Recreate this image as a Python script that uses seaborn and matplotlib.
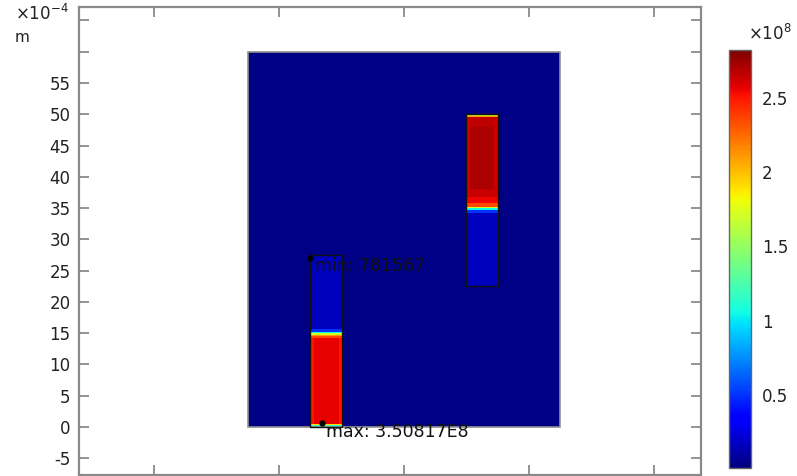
import numpy as np
import seaborn as sns
import matplotlib.pyplot as plt
from matplotlib.patches import Rectangle

# geometry, x / y in units of 1e-4 m
domain_x = [-5, 45]
domain_y = [0, 60]
domain_value = 2.5e6

left_rod_x = [5, 10]
left_rod_y = [0, 27.5]
# (bottom, top, value) bands along the rod
left_rod_bands = [(0.0, 0.25, 1.2e8), (0.25, 0.5, 1.9e8), (0.5, 14.25, 2.56e8),
                  (14.25, 14.5, 2.35e8), (14.5, 14.75, 2.1e8), (14.75, 15.0, 1.7e8),
                  (15.0, 15.25, 1.05e8), (15.25, 15.75, 0.5e8), (15.75, 27.5, 0.17e8)]
left_red_edge = 2.5e8

right_rod_x = [30, 35]
right_rod_y = [22.5, 50]
right_rod_bands = [(22.5, 34.25, 0.17e8), (34.25, 34.75, 0.5e8), (34.75, 35.0, 1.05e8),
                   (35.0, 35.25, 1.7e8), (35.25, 35.75, 2.35e8), (35.75, 36.75, 2.55e8),
                   (36.75, 38.0, 2.64e8), (38.0, 48.0, 2.71e8), (48.0, 49.5, 2.66e8),
                   (49.5, 49.75, 2.1e8), (49.75, 50.0, 1.7e8)]
right_red_edge = 2.63e8

min_value = 781567
max_value = 3.50817e8
min_point = (5, 27)
max_point = (6.9, 0.6)
color_top = 2.82e8

y_ticks = [-5, 0, 5, 10, 15, 20, 25, 30, 35, 40, 45, 50, 55, 60, 65]
y_labels = ['-5', '0', '5', '10', '15', '20', '25', '30', '35', '40', '45', '50', '55', '', '']
x_ticks = [-20, 0, 20, 40, 60]
cbar_ticks = [0.5e8, 1e8, 1.5e8, 2e8, 2.5e8]
cbar_labels = ['0.5', '1', '1.5', '2', '2.5']

# build the field grid
cell = 0.25
nx = int((domain_x[1] - domain_x[0]) / cell)
ny = int((domain_y[1] - domain_y[0]) / cell)
xc = domain_x[0] + (np.arange(nx) + 0.5) * cell
yc = domain_y[0] + (np.arange(ny) + 0.5) * cell
grid = np.full((ny, nx), domain_value)

for rx, bands, edge in [(left_rod_x, left_rod_bands, left_red_edge),
                        (right_rod_x, right_rod_bands, right_red_edge)]:
    cols = (xc > rx[0]) & (xc < rx[1])
    edge_cols = cols & ((xc < rx[0] + 0.5) | (xc > rx[1] - 0.5))
    for y0, y1, v in bands:
        rows = (yc > y0) & (yc < y1)
        grid[np.ix_(rows, cols)] = v
        if v > 2.5e8:
            grid[np.ix_(rows, edge_cols)] = min(edge, v)

sns.set_style('ticks')
plt.rcParams['font.family'] = ['DejaVu Sans']
plt.rcParams['axes.unicode_minus'] = False

fig = plt.figure(figsize=(7.97, 4.76), dpi=100)
ax = fig.add_axes([79 / 797, 1 / 476, 622 / 797, 468 / 476])
cax = fig.add_axes([729 / 797, 8 / 476, 22 / 797, 418 / 476])

ax.set_xlim(-32.1, 67.6)
ax.set_ylim(-7.67, 67.15)
ax.set_xticks(x_ticks)
ax.set_xticklabels([])
ax.set_yticks(y_ticks)
ax.set_yticklabels(y_labels)
ax.tick_params(direction='in', length=7, width=1.2, color='#808080', top=True, right=True,
               labelsize=12, labelcolor='#222222', pad=6)
for s in ax.spines.values():
    s.set_color('#8a8a8a')
    s.set_linewidth(1.6)

iax = ax.inset_axes([domain_x[0], domain_y[0], domain_x[1] - domain_x[0], domain_y[1] - domain_y[0]],
                    transform=ax.transData)
sns.heatmap(grid[::-1], ax=iax, cmap='jet', vmin=min_value, vmax=color_top,
            cbar_ax=cax, xticklabels=False, yticklabels=False, linewidths=0, rasterized=True)
iax.tick_params(length=0)

ax.add_patch(Rectangle((domain_x[0], domain_y[0]), domain_x[1] - domain_x[0], domain_y[1] - domain_y[0],
                       fill=False, edgecolor='#909090', linewidth=1.2, zorder=6))
for rx, ry in [(left_rod_x, left_rod_y), (right_rod_x, right_rod_y)]:
    ax.add_patch(Rectangle((rx[0], ry[0]), rx[1] - rx[0], ry[1] - ry[0],
                           fill=False, edgecolor='#111111', linewidth=1.0, zorder=6))

for pt, txt in [(min_point, 'min: %d' % min_value), (max_point, 'max: 3.50817E8')]:
    ax.plot([pt[0]], [pt[1]], 'o', color='black', markersize=3.5, zorder=7)
    ax.annotate(txt, pt, xytext=(3, -6), textcoords='offset points', ha='left', va='center',
                fontsize=12.5, color='#111111', zorder=7, annotation_clip=False)

fig.text(15 / 797, 1 - 14 / 476, r'$\times10^{-4}$', fontsize=12, color='#222222', va='center')
fig.text(15 / 797, 1 - 38 / 476, 'm', fontsize=11, color='#222222', va='center')

cb = iax.collections[0].colorbar
cb.set_ticks(cbar_ticks)
cb.set_ticklabels(cbar_labels)
cb.outline.set_edgecolor('#666666')
cb.outline.set_linewidth(1.0)
cax.tick_params(direction='in', length=4, width=1.2, color='#333333', left=True, right=True,
                labelsize=12, labelcolor='#222222', pad=8)
fig.text(748 / 797, 1 - 34 / 476, r'$\times10^{8}$', fontsize=12, color='#222222', va='center')

fig.savefig('out.png', dpi=100, facecolor='white')
